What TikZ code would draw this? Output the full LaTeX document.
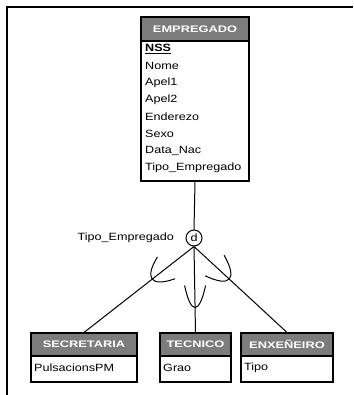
\documentclass[tikz,border=0pt]{standalone}
\usepackage{fontspec}
\setmainfont{Liberation Sans}
\newfontfamily\attrfont[FakeStretch=1.2]{Liberation Sans}
\newfontfamily\attrbold[FakeStretch=1.2]{Liberation Sans Bold}
\newfontfamily\hdrfont[FakeStretch=1.35]{Liberation Sans Bold}
\usetikzlibrary{calc}
\definecolor{hdrgray}{HTML}{7C7C7C}
\begin{document}
\begin{tikzpicture}[x=1pt,y=-1pt,
  frameline/.style={line width=1.7pt},
  hdr/.style={draw=black,line width=1.1pt,fill=hdrgray,text=white,inner sep=0pt,
     font=\hdrfont\fontsize{9.5}{10}\selectfont},
  bodybox/.style={draw=black,line width=1.1pt,inner sep=0pt},
  attr/.style={anchor=west,inner sep=0pt,font=\attrfont\fontsize{10.5}{11}\selectfont},
  conn/.style={line width=1pt},
  disj/.style={circle,draw=black,line width=1pt,minimum size=16pt,inner sep=0pt,
     font=\attrfont\fontsize{10.5}{11}\selectfont},
  pics/usub/.style 2 args={code={\draw[conn] (-#1,#2) .. controls ({#1/3},{0.4*#2}) and ({#1/3},{-0.4*#2}) .. (-#1,-#2);}}
]
\useasboundingbox (0,0) rectangle (353,395);
% frame
\coordinate (fA) at (7,395);
\coordinate (fB) at (7,7);
\coordinate (fC) at (353,7);
\draw[frameline] (fA) -- (fB) -- (fC);

% EMPREGADO
\node[hdr,minimum width=108pt,minimum height=24pt] (emph) at (195,29) {EMPREGADO};
\node[bodybox,minimum width=108pt,minimum height=140pt] (emb) at (195,111) {};
\node[attr] (a1) at (145,49) {\attrbold\underline{NSS}};
\node[attr] (a2) at (145,66) {Nome};
\node[attr] (a3) at (145,83) {Apel1};
\node[attr] (a4) at (145,100) {Apel2};
\node[attr] (a5) at (145,117) {Enderezo};
\node[attr] (a6) at (145,134) {Sexo};
\node[attr] (a7) at (145,151) {Data\_Nac};
\node[attr] (a8) at (145,168) {Tipo\_Empregado};

% disjoint circle
\node[disj] (d) at (194,238) {d};
\node[attr,anchor=east] (dl) at (174,238) {Tipo\_Empregado};

% subclasses
\node[hdr,minimum width=106pt,minimum height=23pt] (sech) at (84,344.5) {SECRETARIA};
\node[bodybox,minimum width=106pt,minimum height=26pt] (secb) at (84,369) {};
\node[attr] (s1) at (34,368) {PulsacionsPM};

\node[hdr,minimum width=71pt,minimum height=23pt] (tech) at (195.5,344.5) {TECNICO};
\node[bodybox,minimum width=71pt,minimum height=26pt] (tecb) at (195.5,369) {};
\node[attr] (t1) at (163,368) {Grao};

\node[hdr,minimum width=92pt,minimum height=23pt] (enxh) at (287,344.5) {ENXEÑEIRO};
\node[bodybox,minimum width=92pt,minimum height=26pt] (enxb) at (287,369) {};
\node[attr] (e1) at (244,368) {Tipo};

% connectors
\draw[conn] (emb.south) -- (d.north);
\draw[conn] (d.south) -- (sech.north);
\draw[conn] (d.south) -- (tech.north);
\draw[conn] (d.south) -- (enxh.north);

% subset arcs
\pic[rotate=218.9] at ($(d.south)!53pt!(sech.north)$) {usub={18}{14}};
\pic[rotate=-90] at ($(d.south)!61pt!(tech.north)$) {usub={22}{10.5}};
\pic[rotate=-42.8] at ($(d.south)!48pt!(enxh.north)$) {usub={20}{14}};
\end{tikzpicture}
\end{document}
